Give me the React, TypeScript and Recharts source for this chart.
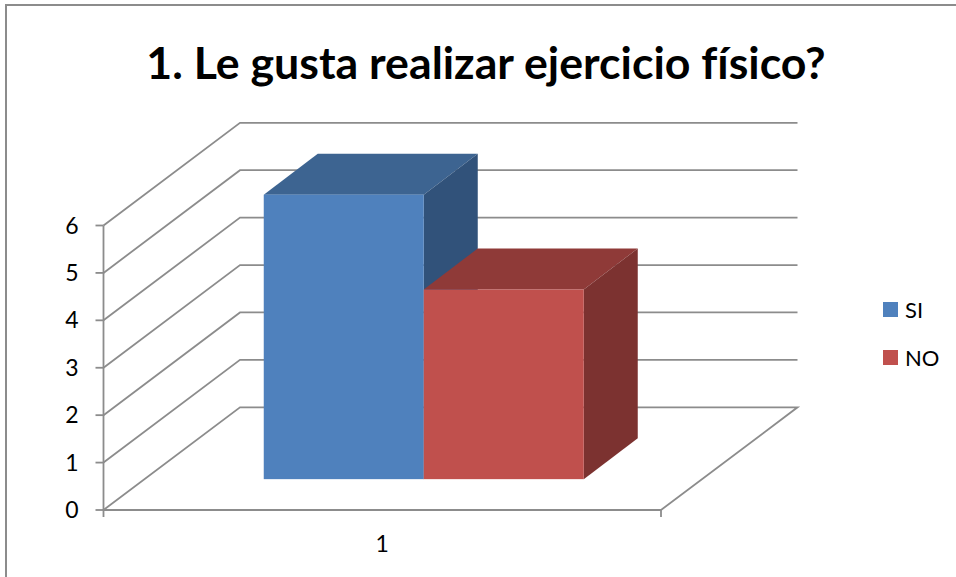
import { BarChart, Bar, XAxis, YAxis, CartesianGrid, Legend } from 'recharts'

const categories = ['1']
const siValues = [6]
const noValues = [4]
const yTicks = [0, 1, 2, 3, 4, 5, 6]

const rows = categories.map((name, i) => ({ name, SI: siValues[i], NO: noValues[i] }))

const LINE = '#8c8c8c'
const LINE_WIDTH = 1.8
const FONT = 'Lato, "Open Sans", sans-serif'

// oblique projection: how far the back wall sits from the front plane
const WALL_DX = 136.5
const WALL_DY = -102.7
// depth of a bar and its place inside the floor
const BAR_DX = 54
const BAR_DY = -41
const INSET_DX = (WALL_DX - BAR_DX) / 2
const INSET_DY = (WALL_DY - BAR_DY) / 2

/** Gridline folded along the left wall and the back wall; the base line also closes the floor */
function WallLine(props: any) {
  const { x1, y1, x2, y2, y, height } = props
  const isFloor = Math.abs(y1 - (y + height)) < 0.5
  const back = `M${x1},${y1} L${x1 + WALL_DX},${y1 + WALL_DY} L${x2 + WALL_DX},${y2 + WALL_DY}`
  const d = isFloor ? `${back} L${x2},${y2}` : back
  return <path d={d} fill="none" stroke={LINE} strokeWidth={LINE_WIDTH} />
}

/** Extruded column: front face from the scale, plus top and side faces */
function Box3D(props: any) {
  const { x, y, width, height, fill, topFill, sideFill } = props
  const fx = x + INSET_DX
  const fy = y + INSET_DY
  const right = fx + width
  const bottom = fy + height
  return (
    <g>
      <polygon
        points={`${fx},${fy} ${fx + BAR_DX},${fy + BAR_DY} ${right + BAR_DX},${fy + BAR_DY} ${right},${fy}`}
        fill={topFill}
      />
      <polygon
        points={`${right},${fy} ${right + BAR_DX},${fy + BAR_DY} ${right + BAR_DX},${bottom + BAR_DY} ${right},${bottom}`}
        fill={sideFill}
      />
      <rect x={fx} y={fy} width={width} height={height} fill={fill} />
    </g>
  )
}

/** Category label with the two tick marks at the ends of its band */
function CategoryTick(props: any) {
  const { x, y, width, payload } = props
  const top = y - 9
  return (
    <g>
      <line x1={x - width / 2} y1={top} x2={x - width / 2} y2={top + 8} stroke={LINE} strokeWidth={LINE_WIDTH} />
      <line x1={x + width / 2} y1={top} x2={x + width / 2} y2={top + 8} stroke={LINE} strokeWidth={LINE_WIDTH} />
      <text x={x} y={y + 34} textAnchor="middle" fontFamily={FONT} fontSize={23} fill="#000">
        {payload.value}
      </text>
    </g>
  )
}

function LegendList({ payload }: any) {
  return (
    <div>
      {(payload ?? []).map((entry: any) => (
        <div
          key={entry.value}
          style={{ display: 'flex', alignItems: 'center', height: 48, fontFamily: FONT, fontSize: 22, color: '#000' }}
        >
          <span style={{ width: 15, height: 15, background: entry.color, marginRight: 7 }} />
          {entry.value}
        </div>
      ))}
    </div>
  )
}

export default function App() {
  return (
    <div style={{ position: 'absolute', left: 0, top: 0, width: 956, height: 577, overflow: 'hidden', background: '#fff' }}>
      <div
        style={{
          position: 'absolute',
          left: 5,
          top: 4,
          width: 960,
          height: 590,
          borderLeft: `2px solid ${LINE}`,
          borderTop: `2px solid ${LINE}`,
        }}
      />
      <div
        style={{
          position: 'absolute',
          left: 0,
          top: 27,
          width: 972,
          textAlign: 'center',
          fontFamily: FONT,
          fontWeight: 700,
          fontSize: 44.7,
          fontVariantLigatures: 'none',
          lineHeight: '70px',
          color: '#000',
        }}
      >
        1. Le gusta realizar ejercicio físico?
      </div>
      <BarChart
        width={956}
        height={577}
        data={rows}
        barSize={160}
        barGap={0}
        margin={{ top: 225.5, right: 222, bottom: 37, left: 43.5 }}
        style={{ position: 'absolute', left: 0, top: 0 }}
      >
        <CartesianGrid horizontal={(p: any) => <WallLine key={p.key} {...p} />} vertical={false} />
        <XAxis
          dataKey="name"
          height={30}
          axisLine={{ stroke: LINE, strokeWidth: LINE_WIDTH }}
          tickLine={false}
          tick={<CategoryTick />}
        />
        <YAxis
          width={60}
          domain={[0, 6]}
          ticks={yTicks}
          interval={0}
          tickSize={8}
          tickMargin={17}
          axisLine={{ stroke: LINE, strokeWidth: LINE_WIDTH }}
          tickLine={{ stroke: LINE, strokeWidth: LINE_WIDTH }}
          tick={{ fill: '#000', fontFamily: FONT, fontSize: 23 }}
        />
        <Legend
          layout="vertical"
          align="right"
          verticalAlign="middle"
          width={73}
          itemSorter={null}
          content={<LegendList />}
          wrapperStyle={{ left: 883, top: 285 }}
        />
        <Bar
          dataKey="SI"
          fill="#4f81bd"
          isAnimationActive={false}
          shape={(p: any) => <Box3D {...p} topFill="#3d6491" sideFill="#31527a" />}
        />
        <Bar
          dataKey="NO"
          fill="#c0504d"
          isAnimationActive={false}
          shape={(p: any) => <Box3D {...p} topFill="#8f3a38" sideFill="#7c3230" />}
        />
      </BarChart>
    </div>
  )
}
